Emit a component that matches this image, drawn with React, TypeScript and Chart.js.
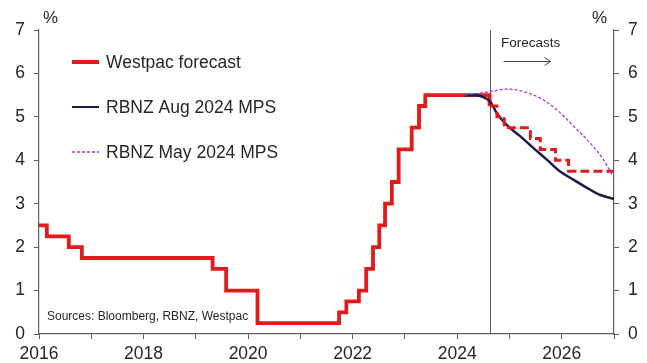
import React, { useEffect, useRef } from "react";
import { Chart, registerables } from "chart.js";

Chart.register(...registerables);

// ---- Data ----
const westpacHistDates = [2016.0, 2016.15, 2016.57, 2016.82, 2019.32, 2019.58, 2020.18, 2021.74, 2021.88, 2022.12, 2022.26, 2022.39, 2022.51, 2022.62, 2022.75, 2022.88, 2023.13, 2023.27, 2023.39, 2024.62];
const westpacHistRates = [2.5, 2.25, 2.0, 1.75, 1.5, 1.0, 0.25, 0.5, 0.75, 1.0, 1.5, 2.0, 2.5, 3.0, 3.5, 4.25, 4.75, 5.25, 5.5, 5.25];

const westpacFcDates = [2024.62, 2024.76, 2024.9, 2025.4, 2025.59, 2025.88, 2026.13, 2027.0];
const westpacFcRates = [5.25, 5.0, 4.75, 4.5, 4.25, 4.0, 3.75, 3.75];

const rbnzAugDates = [2024.15, 2024.35, 2024.44, 2024.63, 2024.76, 2024.95, 2025.21, 2025.46, 2025.72, 2025.97, 2026.23, 2026.49, 2026.74, 2027.0];
const rbnzAugRates = [5.5, 5.5, 5.48, 5.35, 5.08, 4.81, 4.55, 4.28, 4.01, 3.74, 3.55, 3.36, 3.2, 3.11];

const rbnzMayDates = [2024.15, 2024.38, 2024.63, 2024.95, 2025.27, 2025.59, 2025.91, 2026.23, 2026.55, 2026.8, 2027.0];
const rbnzMayRates = [5.5, 5.54, 5.58, 5.64, 5.58, 5.43, 5.16, 4.78, 4.39, 4.01, 3.59];

const FORECAST_START = 2024.62;
const X_MIN = 2016;
const X_MAX = 2027;
const Y_MIN = 0;
const Y_MAX = 7;

const LEGEND_LABELS = ["Westpac forecast", "RBNZ Aug 2024 MPS", "RBNZ May 2024 MPS"];
const FORECAST_LABEL = "Forecasts";
const SOURCE_LABEL = "Sources: Bloomberg, RBNZ, Westpac";
const UNIT_LABEL = "%";

// ---- Styles ----
const RED = "#e11b1b";
const NAVY = "#1c1a4c";
const PURPLE = "#9b33f0";
const AXIS = "#5f5f5f";
const TEXT = "#262626";
const FONT = "'Liberation Sans', Arial, sans-serif";

const zip = (xs: number[], ys: number[]) => xs.map((x, i) => ({ x, y: ys[i] }));

const overlayPlugin = {
  id: "overlay",
  beforeDatasetsDraw(chart: any) {
    const { ctx, chartArea, scales } = chart;
    const vx = Math.round(scales.x.getPixelForValue(FORECAST_START)) + 0.5;
    ctx.save();
    ctx.strokeStyle = AXIS;
    ctx.lineWidth = 1;
    ctx.beginPath();
    ctx.moveTo(vx, chartArea.top);
    ctx.lineTo(vx, chartArea.bottom);
    ctx.stroke();
    ctx.restore();
  },
  afterDraw(chart: any) {
    const { ctx, chartArea, scales } = chart;
    const vx = scales.x.getPixelForValue(FORECAST_START);
    ctx.save();
    ctx.fillStyle = TEXT;
    ctx.textBaseline = "middle";

    // Forecasts annotation
    ctx.font = `13.5px ${FONT}`;
    ctx.textAlign = "left";
    ctx.fillText(FORECAST_LABEL, vx + 11.5, chartArea.top + 13.5);
    ctx.strokeStyle = "#444";
    ctx.lineWidth = 1;
    const ay = Math.round(chartArea.top + 31) + 0.5;
    const ax0 = vx + 14;
    const ax1 = vx + 61;
    ctx.beginPath();
    ctx.moveTo(ax0, ay);
    ctx.lineTo(ax1, ay);
    ctx.moveTo(ax1 - 6, ay - 4);
    ctx.lineTo(ax1, ay);
    ctx.lineTo(ax1 - 6, ay + 4);
    ctx.stroke();

    // Units
    ctx.font = `17px ${FONT}`;
    ctx.textAlign = "left";
    ctx.fillText(UNIT_LABEL, chartArea.left + 4, chartArea.top - 12);
    ctx.textAlign = "right";
    ctx.fillText(UNIT_LABEL, chartArea.right - 7, chartArea.top - 12);

    // Sources
    ctx.font = `12px ${FONT}`;
    ctx.textAlign = "left";
    ctx.fillText(SOURCE_LABEL, chartArea.left + 8, chartArea.bottom - 17);

    // Legend
    const items = [
      { color: RED, width: 4, dash: [] as number[] },
      { color: NAVY, width: 2, dash: [] as number[] },
      { color: PURPLE, width: 1.3, dash: [3, 2] },
    ];
    const ys = [62, 107, 152];
    ctx.font = `17.5px ${FONT}`;
    items.forEach((it, i) => {
      const y = ys[i];
      ctx.strokeStyle = it.color;
      ctx.lineWidth = it.width;
      ctx.setLineDash(it.dash);
      ctx.beginPath();
      ctx.moveTo(chartArea.left + 33, y);
      ctx.lineTo(chartArea.left + 60, y);
      ctx.stroke();
      ctx.setLineDash([]);
      ctx.fillStyle = TEXT;
      ctx.textAlign = "left";
      ctx.fillText(LEGEND_LABELS[i], chartArea.left + 67, y + 1);
    });
    ctx.restore();
  },
};

export default function App() {
  const ref = useRef<HTMLCanvasElement | null>(null);

  useEffect(() => {
    document.body.style.margin = "0";
    if (!ref.current) return;
    const tickFont = { family: FONT, size: 17.5 };
    const chart = new Chart(ref.current, {
      type: "line",
      data: {
        datasets: [
          {
            label: "RBNZ May 2024 MPS",
            data: zip(rbnzMayDates, rbnzMayRates),
            borderColor: PURPLE,
            borderWidth: 1.3,
            borderDash: [3, 2],
            pointRadius: 0,
            cubicInterpolationMode: "monotone",
            fill: false,
          },
          {
            label: "Westpac forecast (projection)",
            data: zip(westpacFcDates, westpacFcRates),
            borderColor: RED,
            borderWidth: 3,
            borderDash: [9, 4],
            pointRadius: 0,
            stepped: "before",
            fill: false,
          },
          {
            label: "RBNZ Aug 2024 MPS",
            data: zip(rbnzAugDates, rbnzAugRates),
            borderColor: NAVY,
            borderWidth: 2.5,
            pointRadius: 0,
            cubicInterpolationMode: "monotone",
            fill: false,
          },
          {
            label: "Westpac forecast",
            data: zip(westpacHistDates, westpacHistRates),
            borderColor: RED,
            borderWidth: 3.8,
            pointRadius: 0,
            stepped: "before",
            fill: false,
            borderJoinStyle: "miter",
          },
        ],
      },
      options: {
        animation: false,
        responsive: false,
        maintainAspectRatio: false,
        layout: { padding: { top: 30, left: 0, right: 0, bottom: 0 } },
        plugins: { legend: { display: false }, tooltip: { enabled: false } },
        scales: {
          x: {
            type: "linear",
            min: X_MIN,
            max: X_MAX,
            afterFit: (s: any) => {
              s.height = 29;
            },
            ticks: {
              stepSize: 1,
              autoSkip: false,
              maxRotation: 0,
              padding: 5,
              color: TEXT,
              font: tickFont,
              callback: (v: any) => (Number(v) % 2 === 0 ? String(v) : ""),
            },
            grid: { drawOnChartArea: false, drawTicks: true, tickLength: 5, color: AXIS },
            border: { display: true, color: AXIS, width: 1.2 },
          },
          y: {
            position: "left",
            min: Y_MIN,
            max: Y_MAX,
            afterFit: (s: any) => {
              s.width = 39;
            },
            ticks: { stepSize: 1, padding: 9, color: TEXT, font: tickFont },
            grid: { drawOnChartArea: false, drawTicks: true, tickLength: 5, color: AXIS },
            border: { display: true, color: AXIS, width: 1.2 },
          },
          y2: {
            position: "right",
            min: Y_MIN,
            max: Y_MAX,
            afterFit: (s: any) => {
              s.width = 33;
            },
            ticks: { stepSize: 1, padding: 9, color: TEXT, font: tickFont },
            grid: { drawOnChartArea: false, drawTicks: true, tickLength: 5, color: AXIS },
            border: { display: true, color: AXIS, width: 1.2 },
          },
        },
      } as any,
      plugins: [overlayPlugin],
    });
    return () => chart.destroy();
  }, []);

  return (
    <div style={{ position: "fixed", left: 0, top: 0, width: 647, height: 363, background: "#fff" }}>
      <canvas ref={ref} width={647} height={363} style={{ display: "block", width: 647, height: 363 }} />
    </div>
  );
}
